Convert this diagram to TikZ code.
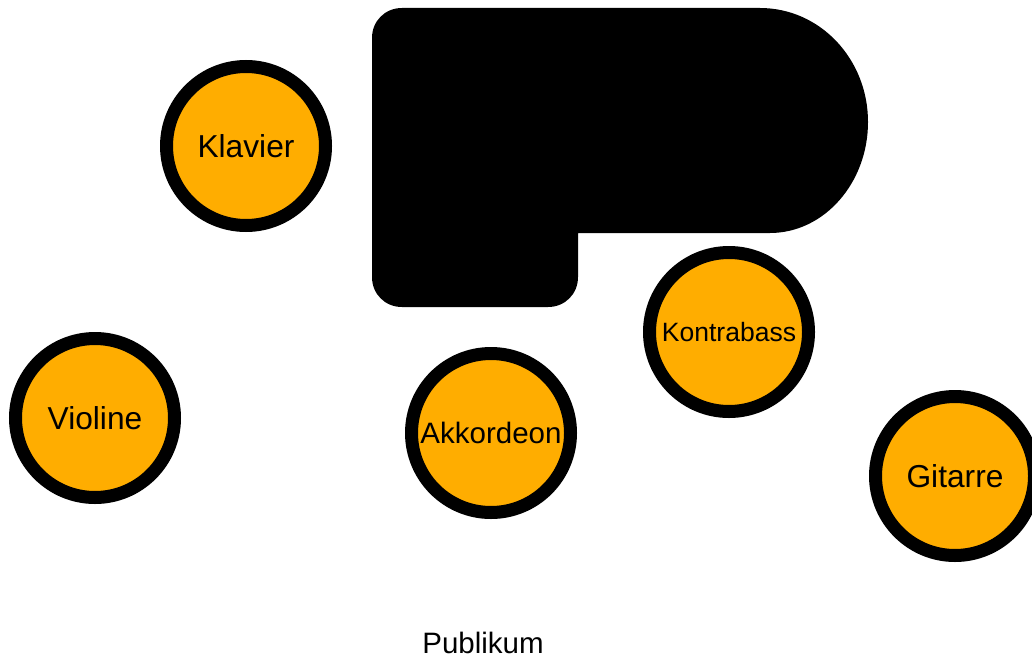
\documentclass[tikz,border=0pt]{standalone}
\usepackage{fontspec}
\setmainfont{Liberation Sans}
\definecolor{seat}{RGB}{255,173,0}
\tikzset{
  player/.style={circle, draw=black, fill=seat, line width=13pt, minimum size=159pt, inner sep=0pt, font=\fontsize{31.7}{36}\selectfont},
  label text/.style={font=\fontsize{29.5}{34}\selectfont, inner sep=0pt}
}
\begin{document}
\begin{tikzpicture}[x=1pt,y=-1pt]
\useasboundingbox (0,0) rectangle (1032,658);
% grand piano
\fill[black] (402,8) -- (760,8)
  .. controls (820,8) and (868,59) .. (868,122)
  .. controls (868,183) and (824,233) .. (770,233)
  -- (578,233) -- (578,277)
  .. controls (578,294) and (565,307) .. (548,307)
  -- (402,307)
  .. controls (385,307) and (372,294) .. (372,277)
  -- (372,38)
  .. controls (372,21) and (385,8) .. (402,8) -- cycle;
\node[player] (klavier) at (246,146) {Klavier};
\node[player] (violine) at (95,418) {Violine};
\node[player, font=\fontsize{29.5}{34}\selectfont] (akkordeon) at (491,433) {Akkordeon};
\node[player, font=\fontsize{26.5}{30}\selectfont] (kontrabass) at (729,332) {Kontrabass};
\node[player] (gitarre) at (955,476) {Gitarre};
\node[label text] (publikum) at (483,643) {Publikum};
\end{tikzpicture}
\end{document}
